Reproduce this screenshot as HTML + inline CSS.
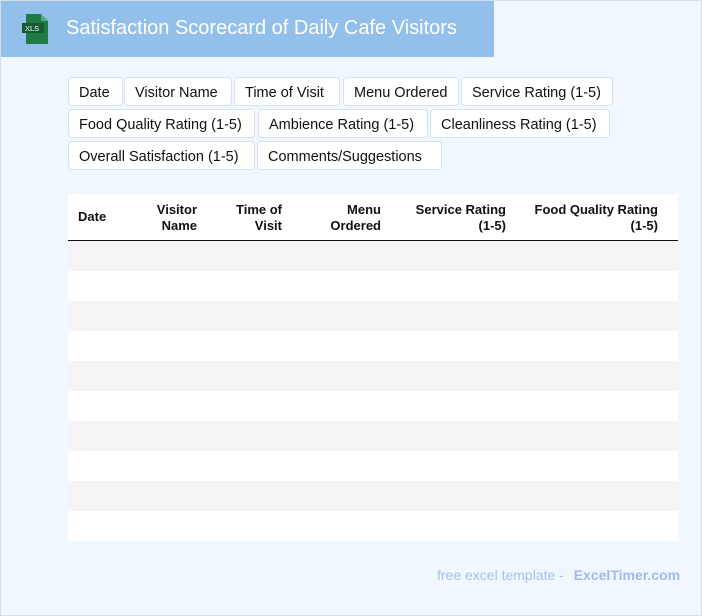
<!DOCTYPE html>
<html><head><meta charset="utf-8">
<style>
*{margin:0;padding:0;box-sizing:border-box}
body{width:702px;height:616px;overflow:hidden;background:#fff;font-family:"Liberation Sans",Arial,sans-serif}
#page{position:absolute;left:0;top:0;width:702px;height:616px;background:#f0f7ff;box-shadow:inset 0 0 0 1px #d4dde8}
#hdr{position:absolute;left:1px;top:1px;width:493px;height:56px;background:#92c0ea}
#title{position:absolute;left:65px;top:16px;color:#fff;font-size:20px;white-space:nowrap}
.icon{position:absolute;left:21px;top:13px;width:28px;height:30px}
.chip{position:absolute;height:29px;background:#fff;border:1px solid #d6e2ef;border-radius:4px;font-size:14.5px;color:#111;line-height:30px;padding-left:10px;white-space:nowrap}
#tbl{position:absolute;left:68px;top:194px;width:610px;height:347px;background:#fff}
.th{position:absolute;font-weight:bold;font-size:13px;color:#111;line-height:16px;text-align:right;white-space:nowrap}
#hline{position:absolute;left:0;top:46px;width:610px;height:2px;background:#111}
.row{position:absolute;left:0;width:610px;height:30px}
#foot{position:absolute;left:437px;top:567px;font-size:14px;color:#a9bff0;white-space:nowrap}
#foot b{margin-left:6px;color:#a3b9ee}
</style></head><body>
<div id="page">
 <div id="hdr">
  <svg class="icon" viewBox="0 0 28 30">
   <path d="M4 0h15l7 7v23H4z" fill="#1f7a45"/><path d="M19 0v7h7z" fill="#4caf7a"/>
   <rect x="0" y="9" width="22" height="10" fill="#145a32"/>
   <text x="3" y="17" font-size="7.5" fill="#fff" font-family="Liberation Sans">XLS</text>
  </svg>
  <div id="title">Satisfaction Scorecard of Daily Cafe Visitors</div>
 </div>

 <div class="chip" style="left:68px;top:77px;width:55px">Date</div>
 <div class="chip" style="left:124px;top:77px;width:108px">Visitor Name</div>
 <div class="chip" style="left:234px;top:77px;width:106px">Time of Visit</div>
 <div class="chip" style="left:343px;top:77px;width:116px">Menu Ordered</div>
 <div class="chip" style="left:461px;top:77px;width:152px">Service Rating (1-5)</div>
 <div class="chip" style="left:68px;top:109px;width:187px">Food Quality Rating (1-5)</div>
 <div class="chip" style="left:258px;top:109px;width:170px">Ambience Rating (1-5)</div>
 <div class="chip" style="left:430px;top:109px;width:180px">Cleanliness Rating (1-5)</div>
 <div class="chip" style="left:68px;top:141px;width:187px">Overall Satisfaction (1-5)</div>
 <div class="chip" style="left:257px;top:141px;width:185px">Comments/Suggestions</div>

 <div id="tbl">
  <div class="th" style="left:10px;top:15px;text-align:left">Date</div>
  <div class="th" style="right:481px;top:8px">Visitor<br>Name</div>
  <div class="th" style="right:396px;top:8px">Time of<br>Visit</div>
  <div class="th" style="right:297px;top:8px">Menu<br>Ordered</div>
  <div class="th" style="right:172px;top:8px">Service Rating<br>(1-5)</div>
  <div class="th" style="right:20px;top:8px">Food Quality Rating<br>(1-5)</div>
  <div id="hline"></div>
  <div class="row" style="top:47px;background:#f4f4f4"></div>
  <div class="row" style="top:77px"></div>
  <div class="row" style="top:107px;background:#f4f4f4"></div>
  <div class="row" style="top:137px"></div>
  <div class="row" style="top:167px;background:#f4f4f4"></div>
  <div class="row" style="top:197px"></div>
  <div class="row" style="top:227px;background:#f4f4f4"></div>
  <div class="row" style="top:257px"></div>
  <div class="row" style="top:287px;background:#f4f4f4"></div>
  <div class="row" style="top:317px"></div>
 </div>

 <div id="foot">free excel template - <b>ExcelTimer.com</b></div>
</div>
</body></html>
